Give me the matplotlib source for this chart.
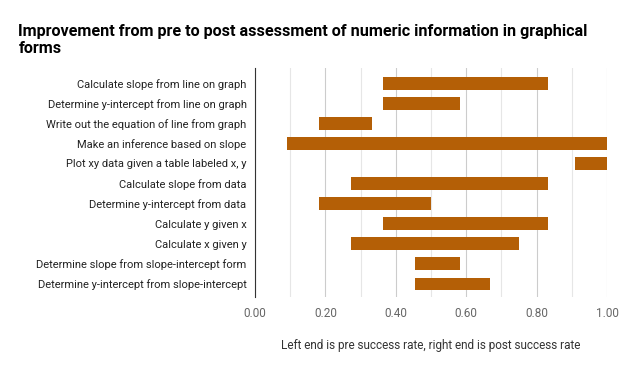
import matplotlib.pyplot as plt
from matplotlib.ticker import MultipleLocator

# tasks, top to bottom
tasks = [
    'Calculate slope from line on graph',
    'Determine y-intercept from line on graph',
    'Write out the equation of line from graph',
    'Make an inference based on slope',
    'Plot xy data given a table labeled x, y',
    'Calculate slope from data',
    'Determine y-intercept from data',
    'Calculate y given x',
    'Calculate x given y',
    'Determine slope from slope-intercept form',
    'Determine y-intercept from slope-intercept',
]
pre = [0.364, 0.364, 0.182, 0.091, 0.909, 0.273, 0.182, 0.364, 0.273, 0.455, 0.455]
post = [0.833, 0.583, 0.333, 1.0, 1.0, 0.833, 0.5, 0.833, 0.75, 0.583, 0.667]
xticks = [0.0, 0.2, 0.4, 0.6, 0.8, 1.0]

plt.rcParams['font.family'] = ['Roboto', 'DejaVu Sans']

fig = plt.figure(figsize=(6.31, 3.71), dpi=100)
ax = fig.add_axes([0.404, 0.1995, 0.558, 0.617])

pos = list(range(len(tasks)))
widths = [b - a for a, b in zip(pre, post)]
ax.barh(pos, widths, left=pre, height=0.64, color='#b45f06', zorder=3)

ax.set_xlim(0, 1.0)
ax.set_ylim(10.65, -0.75)
ax.set_xticks(xticks)
ax.set_xticklabels(['%.2f' % t for t in xticks], color='#666666', fontsize=8.5)
ax.xaxis.set_minor_locator(MultipleLocator(0.1))
ax.grid(axis='x', which='major', color='#cccccc', linewidth=0.8, zorder=0)
ax.grid(axis='x', which='minor', color='#e6e6e6', linewidth=0.8, zorder=0)
ax.set_yticks(pos)
ax.set_yticklabels(tasks, color='#222222', fontsize=8)
ax.tick_params(axis='both', which='both', length=0)
ax.tick_params(axis='x', pad=7)
ax.tick_params(axis='y', pad=6)

for s in ['top', 'right', 'bottom']:
    ax.spines[s].set_visible(False)
ax.spines['left'].set_color('#333333')
ax.spines['left'].set_zorder(4)

ax.set_xlabel('Left end is pre success rate, right end is post success rate',
              color='#333333', fontsize=8.5, labelpad=14)

fig.text(0.029, 0.935, 'Improvement from pre to post assessment of numeric information in graphical\nforms',
         fontsize=11.6, fontweight='bold', color='#000000', va='top', ha='left', linespacing=1.15)

fig.savefig('out.png', dpi=100, facecolor='white')
